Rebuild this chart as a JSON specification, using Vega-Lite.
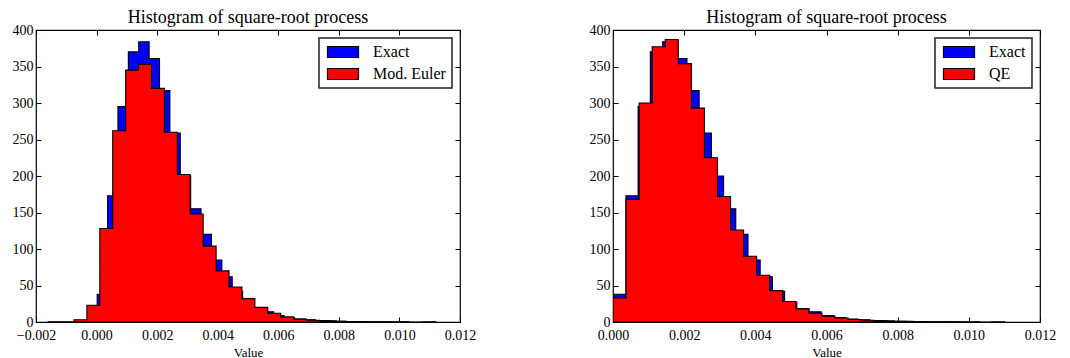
{
  "$schema": "https://vega.github.io/schema/vega-lite/v6.json",
  "padding": {"left": 1, "top": 8, "right": 0, "bottom": 0},
  "background": "white",
  "config": {
    "view": {"stroke": "black", "strokeWidth": 1.2},
    "axis": {"domain": false, "grid": false, "tickColor": "black", "tickSize": -5, "tickWidth": 1,
      "labelFont": "Liberation Serif", "labelFontSize": 14, "labelColor": "black",
      "titleFont": "Liberation Serif", "titleFontSize": 13, "titleFontWeight": "normal", "titleColor": "black",
      "labelFlush": false, "labelOverlap": false, "labelBound": false, "labelPadding": 8},
    "title": {"font": "Liberation Serif", "fontSize": 18, "fontWeight": "normal", "color": "black", "offset": -4},
    "legend": {"strokeColor": "#222", "fillColor": "white", "padding": 6, "cornerRadius": 0, "strokeWidth": 1.5,
      "labelFont": "Liberation Serif", "labelFontSize": 16, "labelColor": "black", "rowPadding": 6}
  },
  "datasets": {
    "left": [
      {"series":"Exact","x":0.00002,"y":38},{"series":"Exact","x":0.000363,"y":173},{"series":"Exact","x":0.000706,"y":295},{"series":"Exact","x":0.001049,"y":370},{"series":"Exact","x":0.001392,"y":384},{"series":"Exact","x":0.001735,"y":361},{"series":"Exact","x":0.002078,"y":317},{"series":"Exact","x":0.002421,"y":259},{"series":"Exact","x":0.002764,"y":200},{"series":"Exact","x":0.003107,"y":155},{"series":"Exact","x":0.00345,"y":120},{"series":"Exact","x":0.003793,"y":85},{"series":"Exact","x":0.004136,"y":62},{"series":"Exact","x":0.004479,"y":42},{"series":"Exact","x":0.004822,"y":27},{"series":"Exact","x":0.005165,"y":18},{"series":"Exact","x":0.005508,"y":14},{"series":"Exact","x":0.005851,"y":9},{"series":"Exact","x":0.006194,"y":6},{"series":"Exact","x":0.006537,"y":4},{"series":"Exact","x":0.00688,"y":3},{"series":"Exact","x":0.007223,"y":2},{"series":"Exact","x":0.007566,"y":1.5},{"series":"Exact","x":0.007909,"y":1},{"series":"Exact","x":0.008252,"y":0.6},{"series":"Exact","x":0.008595,"y":0.5},{"series":"Exact","x":0.008938,"y":0.3},{"series":"Exact","x":0.009281,"y":0.3},{"series":"Exact","x":0.009624,"y":0.1},{"series":"Exact","x":0.009967,"y":0.3},{"series":"Exact","x":0.01031,"y":0},
      {"series":"Mod. Euler","x":-0.0016,"y":0.2},{"series":"Mod. Euler","x":-0.001173,"y":0.4},{"series":"Mod. Euler","x":-0.000747,"y":3},{"series":"Mod. Euler","x":-0.00032,"y":23},{"series":"Mod. Euler","x":0.000107,"y":128},{"series":"Mod. Euler","x":0.000533,"y":262},{"series":"Mod. Euler","x":0.00096,"y":345},{"series":"Mod. Euler","x":0.001387,"y":353},{"series":"Mod. Euler","x":0.001813,"y":320},{"series":"Mod. Euler","x":0.00224,"y":260},{"series":"Mod. Euler","x":0.002667,"y":202},{"series":"Mod. Euler","x":0.003093,"y":148},{"series":"Mod. Euler","x":0.00352,"y":104},{"series":"Mod. Euler","x":0.003947,"y":70},{"series":"Mod. Euler","x":0.004373,"y":48},{"series":"Mod. Euler","x":0.0048,"y":32},{"series":"Mod. Euler","x":0.005227,"y":20},{"series":"Mod. Euler","x":0.005653,"y":12},{"series":"Mod. Euler","x":0.00608,"y":7},{"series":"Mod. Euler","x":0.006507,"y":4},{"series":"Mod. Euler","x":0.006933,"y":2.5},{"series":"Mod. Euler","x":0.00736,"y":1.5},{"series":"Mod. Euler","x":0.007787,"y":1},{"series":"Mod. Euler","x":0.008213,"y":0.5},{"series":"Mod. Euler","x":0.00864,"y":0.3},{"series":"Mod. Euler","x":0.009067,"y":0.2},{"series":"Mod. Euler","x":0.009493,"y":0.2},{"series":"Mod. Euler","x":0.00992,"y":0.1},{"series":"Mod. Euler","x":0.010347,"y":0.1},{"series":"Mod. Euler","x":0.010773,"y":0.2},{"series":"Mod. Euler","x":0.0112,"y":0}
    ],
    "right": [
      {"series":"Exact","x":0.00002,"y":38},{"series":"Exact","x":0.000363,"y":173},{"series":"Exact","x":0.000706,"y":295},{"series":"Exact","x":0.001049,"y":370},{"series":"Exact","x":0.001392,"y":384},{"series":"Exact","x":0.001735,"y":361},{"series":"Exact","x":0.002078,"y":317},{"series":"Exact","x":0.002421,"y":259},{"series":"Exact","x":0.002764,"y":200},{"series":"Exact","x":0.003107,"y":155},{"series":"Exact","x":0.00345,"y":120},{"series":"Exact","x":0.003793,"y":85},{"series":"Exact","x":0.004136,"y":62},{"series":"Exact","x":0.004479,"y":42},{"series":"Exact","x":0.004822,"y":27},{"series":"Exact","x":0.005165,"y":18},{"series":"Exact","x":0.005508,"y":14},{"series":"Exact","x":0.005851,"y":9},{"series":"Exact","x":0.006194,"y":6},{"series":"Exact","x":0.006537,"y":4},{"series":"Exact","x":0.00688,"y":3},{"series":"Exact","x":0.007223,"y":2},{"series":"Exact","x":0.007566,"y":1.5},{"series":"Exact","x":0.007909,"y":1},{"series":"Exact","x":0.008252,"y":0.6},{"series":"Exact","x":0.008595,"y":0.5},{"series":"Exact","x":0.008938,"y":0.3},{"series":"Exact","x":0.009281,"y":0.3},{"series":"Exact","x":0.009624,"y":0.1},{"series":"Exact","x":0.009967,"y":0.3},{"series":"Exact","x":0.01031,"y":0},
      {"series":"QE","x":0,"y":33},{"series":"QE","x":0.000367,"y":168},{"series":"QE","x":0.000734,"y":300},{"series":"QE","x":0.001101,"y":377},{"series":"QE","x":0.001468,"y":387},{"series":"QE","x":0.001835,"y":354},{"series":"QE","x":0.002202,"y":293},{"series":"QE","x":0.002569,"y":225},{"series":"QE","x":0.002936,"y":172},{"series":"QE","x":0.003303,"y":126},{"series":"QE","x":0.00367,"y":90},{"series":"QE","x":0.004037,"y":64},{"series":"QE","x":0.004404,"y":43},{"series":"QE","x":0.004771,"y":28},{"series":"QE","x":0.005138,"y":18},{"series":"QE","x":0.005505,"y":12},{"series":"QE","x":0.005872,"y":8},{"series":"QE","x":0.006239,"y":5.5},{"series":"QE","x":0.006606,"y":3.5},{"series":"QE","x":0.006973,"y":2.5},{"series":"QE","x":0.00734,"y":1.5},{"series":"QE","x":0.007707,"y":1},{"series":"QE","x":0.008074,"y":0.8},{"series":"QE","x":0.008441,"y":0.5},{"series":"QE","x":0.008808,"y":0.3},{"series":"QE","x":0.009175,"y":0.2},{"series":"QE","x":0.009542,"y":0.2},{"series":"QE","x":0.009909,"y":0.1},{"series":"QE","x":0.010276,"y":0.1},{"series":"QE","x":0.010643,"y":0.2},{"series":"QE","x":0.01101,"y":0}
    ]
  },
  "spacing": 101,
  "resolve": {"scale": {"color": "independent", "x": "independent", "y": "independent"}, "legend": {"color": "independent"}},
  "hconcat": [
    {
      "width": 424, "height": 292,
      "title": "Histogram of square-root process",
      "data": {"name": "left"},
      "resolve": {"axis": {"x": "independent", "y": "independent"}},
      "layer": [
        {
          "mark": {"type": "area", "interpolate": "step-after", "stroke": "black", "strokeWidth": 1.1, "opacity": 1, "clip": true},
          "encoding": {
            "x": {"field": "x", "type": "quantitative", "scale": {"domain": [-0.002, 0.012], "nice": false, "zero": false},
              "axis": {"orient": "bottom", "title": "Value", "values": [-0.002, 0, 0.002, 0.004, 0.006, 0.008, 0.01, 0.012], "format": ".3f", "labelPadding": 11, "titlePadding": 4}},
            "y": {"field": "y", "type": "quantitative", "stack": null, "scale": {"domain": [0, 400], "nice": false},
              "axis": {"orient": "left", "title": null, "values": [0, 50, 100, 150, 200, 250, 300, 350, 400], "format": "d", "minExtent": 34, "maxExtent": 34}},
            "color": {"field": "series", "type": "nominal", "sort": ["Exact", "Mod. Euler"],
              "scale": {"domain": ["Exact", "Mod. Euler"], "range": ["#0000ff", "#ff0000"]},
              "legend": {"orient": "top-right", "title": null, "offset": 8, "symbolType": "M-1,-1H4.636V1H-1Z", "symbolSize": 121,
                "symbolStrokeColor": "black", "symbolStrokeWidth": 1.2, "symbolOpacity": 1, "labelOffset": 32}}
          }
        },
        {
          "mark": {"type": "point", "opacity": 0},
          "encoding": {
            "x": {"field": "x", "type": "quantitative", "scale": {"domain": [-0.002, 0.012], "nice": false, "zero": false},
              "axis": {"orient": "top", "title": null, "labels": false, "values": [-0.002, 0, 0.002, 0.004, 0.006, 0.008, 0.01, 0.012], "maxExtent": 0, "minExtent": 0}},
            "y": {"field": "y", "type": "quantitative", "scale": {"domain": [0, 400], "nice": false},
              "axis": {"orient": "right", "title": null, "labels": false, "values": [0, 50, 100, 150, 200, 250, 300, 350, 400], "maxExtent": 0, "minExtent": 0}}
          }
        }
      ]
    },
    {
      "width": 427, "height": 292,
      "title": "Histogram of square-root process",
      "data": {"name": "right"},
      "resolve": {"axis": {"x": "independent", "y": "independent"}},
      "layer": [
        {
          "mark": {"type": "area", "interpolate": "step-after", "stroke": "black", "strokeWidth": 1.1, "opacity": 1, "clip": true},
          "encoding": {
            "x": {"field": "x", "type": "quantitative", "scale": {"domain": [0, 0.012], "nice": false, "zero": false},
              "axis": {"orient": "bottom", "title": "Value", "values": [0, 0.002, 0.004, 0.006, 0.008, 0.01, 0.012], "format": ".3f", "labelPadding": 11, "titlePadding": 4}},
            "y": {"field": "y", "type": "quantitative", "stack": null, "scale": {"domain": [0, 400], "nice": false},
              "axis": {"orient": "left", "title": null, "values": [0, 50, 100, 150, 200, 250, 300, 350, 400], "format": "d", "minExtent": 34, "maxExtent": 34}},
            "color": {"field": "series", "type": "nominal", "sort": ["Exact", "QE"],
              "scale": {"domain": ["Exact", "QE"], "range": ["#0000ff", "#ff0000"]},
              "legend": {"orient": "top-right", "title": null, "offset": 8, "symbolType": "M-1,-1H4.636V1H-1Z", "symbolSize": 121,
                "symbolStrokeColor": "black", "symbolStrokeWidth": 1.2, "symbolOpacity": 1, "labelOffset": 32}}
          }
        },
        {
          "mark": {"type": "point", "opacity": 0},
          "encoding": {
            "x": {"field": "x", "type": "quantitative", "scale": {"domain": [0, 0.012], "nice": false, "zero": false},
              "axis": {"orient": "top", "title": null, "labels": false, "values": [0, 0.002, 0.004, 0.006, 0.008, 0.01, 0.012], "maxExtent": 0, "minExtent": 0}},
            "y": {"field": "y", "type": "quantitative", "scale": {"domain": [0, 400], "nice": false},
              "axis": {"orient": "right", "title": null, "labels": false, "values": [0, 50, 100, 150, 200, 250, 300, 350, 400], "maxExtent": 0, "minExtent": 0}}
          }
        }
      ]
    }
  ]
}
